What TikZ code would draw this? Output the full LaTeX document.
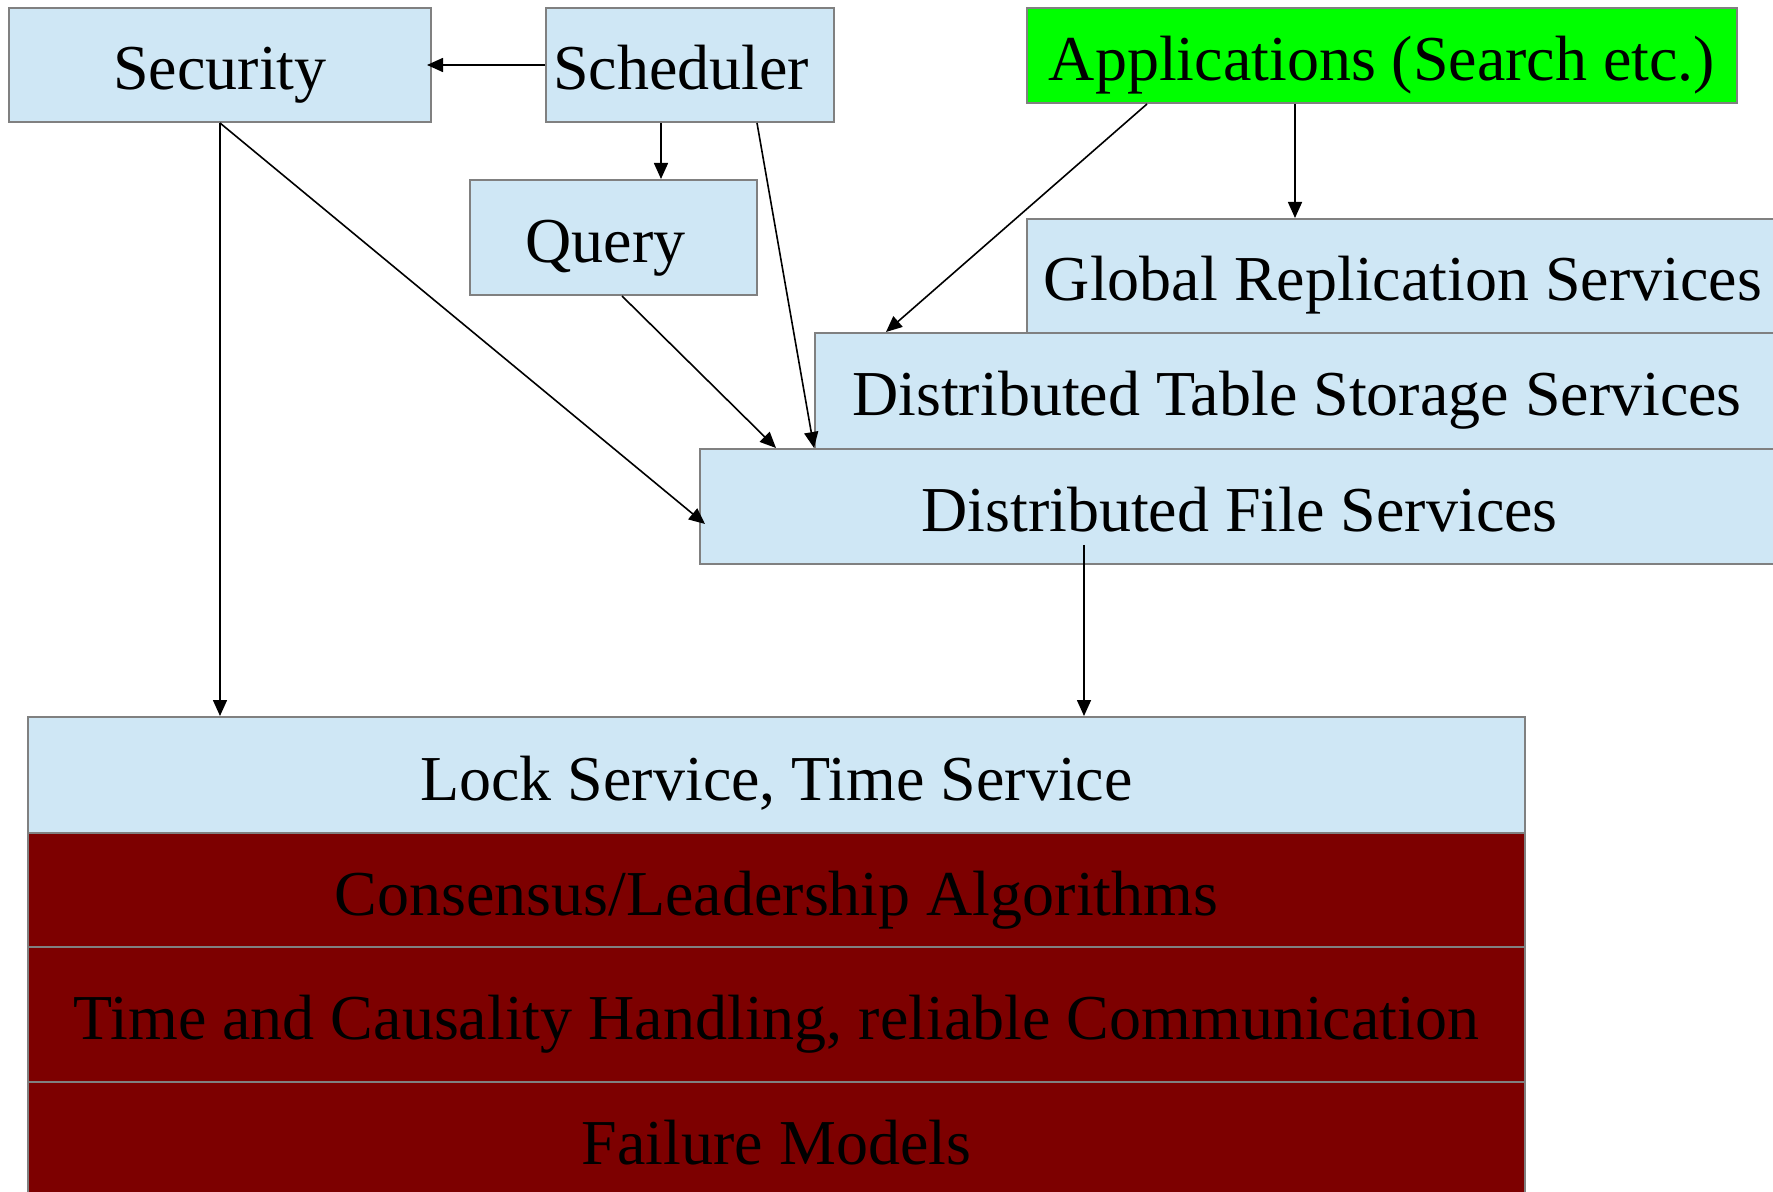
\documentclass[tikz,border=0pt]{standalone}
\usepackage{fontspec}
\setmainfont{Liberation Serif}
\usetikzlibrary{calc,arrows.meta}
\definecolor{paleblue}{RGB}{207,231,245}
\definecolor{darkred}{RGB}{125,0,0}
\definecolor{appgreen}{RGB}{0,255,0}
\definecolor{boxline}{RGB}{128,128,128}

\begin{document}
\begin{tikzpicture}[x=0.5pt, y=-0.5pt,
		box/.style={draw=boxline, line width=1pt, fill=paleblue, inner sep=0pt, anchor=north west,
			text height=28.5pt, text depth=3.5pt, font=\fontsize{32}{38}\selectfont},
		base/.style={box, fill=darkred},
		arr/.style={line width=0.8pt, -{Triangle[length=8pt, width=7pt]}}]
			%%%%% START %%%%%
			\useasboundingbox (0, 0) rectangle (1773, 1192);
			\clip (0, 0) rectangle (1773, 1192);
			
			\node[box, minimum width=211pt, minimum height=57pt] (sec) at (8, 7) {Security};
			\node[box, minimum width=144pt, minimum height=57pt] (sched) at (545, 7) {Scheduler\kern9pt};
			\node[box, minimum width=143.5pt, minimum height=57.5pt] (query) at (469, 179) {Query\kern8pt};
			\node[box, fill=appgreen, minimum width=355pt, minimum height=47.5pt] (app) at (1026, 7) {Applications (Search etc.)};
			
			\node[box, minimum width=376pt, minimum height=57pt] (grs) at (1026, 218) {Global Replication Services};
			\node[box, minimum width=482pt, minimum height=58pt] (dts) at (814, 332) {Distributed Table Storage Services};
			\node[box, minimum width=539.5pt, minimum height=57.5pt] (dfs) at (699, 448) {Distributed File Services};
			
			\node[box, minimum width=748.5pt, minimum height=58pt] (lock) at (27, 716) {Lock Service, Time Service};
			\node[base, minimum width=748.5pt, minimum height=57pt] (cons) at (27, 832) {Consensus/Leadership Algorithms};
			\node[base, minimum width=748.5pt, minimum height=67.5pt] (time) at (27, 946) {Time and Causality Handling, reliable Communication};
			\node[base, minimum width=748.5pt, minimum height=57pt] (fail) at (27, 1081) {Failure Models};
			
			\draw[arr] (sched.west) -- ([xshift=-2.5pt]sec.east);
			\draw[arr] ($(sched.south west)+(116, 0)$) coordinate (s1) -- (s1 |- query.north);
			\draw[arr] ($(sched.south west)+(212, 0)$) -- ($(dfs.north west)+(115, 0)$);
			\draw[arr] ($(query.south west)+(153, 0)$) -- ($(dfs.north west)+(77, 0)$);
			\draw[arr] (sec.south) -- ($(dfs.west)+(6, 17.5)$);
			\draw[arr] (sec.south) -- (sec.south |- lock.north);
			\draw[arr] ($(app.south west)+(269, 0)$) coordinate (a1) -- (a1 |- grs.north);
			\draw[arr] ($(app.south west)+(121, 0)$) -- ($(dts.north west)+(72, 0)$);
			\draw[arr] ($(dfs.south west)+(385, -20)$) coordinate (d1) -- (d1 |- lock.north);
			
			%%%%% END %%%%%
		\end{tikzpicture}
\end{document}
